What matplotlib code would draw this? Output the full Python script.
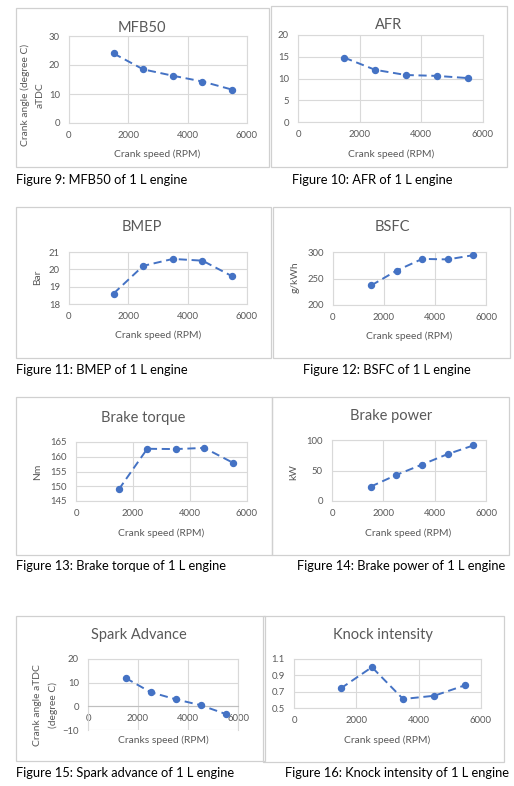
import matplotlib
matplotlib.use("Agg")
import matplotlib.pyplot as plt
from matplotlib.patches import Rectangle

plt.rcParams['font.family'] = ['Lato', 'DejaVu Sans']

# ---------------- data ----------------
rpm = [1500, 2500, 3500, 4500, 5500]
x_ticks = [0, 2000, 4000, 6000]

mfb50 = [24.0, 18.5, 16.3, 14.3, 11.5]
afr = [14.8, 12.0, 10.8, 10.6, 10.1]
bmep = [18.6, 20.2, 20.6, 20.5, 19.6]
bsfc = [237, 265, 287, 286, 294]
torque = [148.9, 162.7, 162.6, 163.0, 158.0]
power = [23.4, 42.6, 59.6, 76.8, 91.0]
spark = [12.0, 6.0, 3.0, 0.5, -3.2]
knock = [0.74, 1.00, 0.61, 0.65, 0.78]

titles = ["MFB50", "AFR", "BMEP", "BSFC", "Brake torque", "Brake power",
          "Spark Advance", "Knock intensity"]
captions = ["Figure 9: MFB50 of 1 L engine", "Figure 10: AFR of 1 L engine",
            "Figure 11: BMEP of 1 L engine", "Figure 12: BSFC of 1 L engine",
            "Figure 13: Brake torque of 1 L engine", "Figure 14: Brake power of 1 L engine",
            "Figure 15: Spark advance of 1 L engine", "Figure 16: Knock intensity of 1 L engine"]
xlabels = ["Crank speed (RPM)"] * 6 + ["Cranks speed (RPM)", "Crank speed (RPM)"]
ylabels = [["Crank angle (degree C)", "aTDC"], [], ["Bar"], ["g/kWh"], ["Nm"], ["kW"],
           ["Crank angle aTDC", "(degree C)"], []]
series = [mfb50, afr, bmep, bsfc, torque, power, spark, knock]
y_ticks = [[0, 10, 20, 30], [0, 5, 10, 15, 20], [18, 19, 20, 21], [200, 250, 300],
           [145, 150, 155, 160, 165], [0, 50, 100], [-10, 0, 10, 20], [0.5, 0.7, 0.9, 1.1]]
y_ticklabels = [None, None, None, None, None, None, None, ["0.5", "0.7", "0.9", "1.1"]]

# ---------------- layout (pixels) ----------------
W, H = 514, 786
fig = plt.figure(figsize=(W / 100, H / 100), dpi=100)
fig.patch.set_facecolor("white")

layout = [
    dict(box=(16, 8, 269, 167), plot=(69, 247, 36, 123), title=(142, 28), xl=(157, 154),
         ylx=[25, 40], yly=95, cap=(16, 180)),
    dict(box=(271, 6, 507, 167), plot=(298, 483, 35, 122), title=(389, 25), xl=(391, 154),
         ylx=[], yly=0, cap=(292, 180)),
    dict(box=(16, 207, 271, 358), plot=(69, 247, 252, 304), title=(142, 227), xl=(158, 335),
         ylx=[38], yly=277, cap=(16, 370)),
    dict(box=(273, 207, 510, 358), plot=(333, 486, 252, 305), title=(392, 227), xl=(409, 336),
         ylx=[295], yly=277, cap=(303, 370)),
    dict(box=(16, 397, 272, 555), plot=(76, 247, 442, 501), title=(143, 418), xl=(161, 533),
         ylx=[38], yly=472, cap=(16, 566)),
    dict(box=(272, 397, 509, 555), plot=(332, 486, 440, 501), title=(391, 416), xl=(408, 533),
         ylx=[294], yly=472, cap=(297, 566)),
    dict(box=(16, 616, 265, 761), plot=(88, 238, 659, 730), title=(139, 635), xl=(163, 740),
         ylx=[38, 53], yly=705, cap=(16, 773)),
    dict(box=(263, 616, 504, 762), plot=(294, 481, 659, 708), title=(383, 635), xl=(387, 740),
         ylx=[], yly=0, cap=(285, 773)),
]

grey = "#595959"
gridc = "#d9d9d9"
blue = "#4472C4"


def fx(x):
    return x / W


def fy(y):
    return 1 - y / H


for i, L in enumerate(layout):
    bx0, by0, bx1, by1 = L["box"]
    fig.patches.append(Rectangle((fx(bx0), fy(by1)), fx(bx1 - bx0), (by1 - by0) / H,
                                 transform=fig.transFigure, fill=False,
                                 edgecolor="#d0d0d0", linewidth=0.9))
    px0, px1, pyt, pyb = L["plot"]
    ax = fig.add_axes([fx(px0), fy(pyb), fx(px1 - px0), (pyb - pyt) / H])
    yt = y_ticks[i]
    ax.set_xlim(0, 6000)
    ax.set_ylim(yt[0], yt[-1])
    ax.set_xticks(x_ticks)
    ax.set_yticks(yt)
    if y_ticklabels[i] is not None:
        ax.set_yticklabels(y_ticklabels[i])
    ax.grid(True, color=gridc, linewidth=0.8)
    ax.set_axisbelow(True)
    for s in ax.spines.values():
        s.set_color(gridc)
        s.set_linewidth(0.8)
    ax.tick_params(length=0, labelsize=6.8, labelcolor=grey, pad=5.5)
    ax.tick_params(axis='y', pad=6.5)
    if i == 6:
        ax.spines['bottom'].set_position(('data', 0))
        ax.spines['bottom'].set_color("#bfbfbf")
    ax.plot(rpm, series[i], color=blue, linestyle=(0, (4.2, 2.4)), linewidth=1.4,
            marker="o", markersize=4.3, zorder=3)

    fig.text(fx(L["title"][0]), fy(L["title"][1]), titles[i], ha="center", va="center",
             fontsize=10.5, color=grey)
    fig.text(fx(L["xl"][0]), fy(L["xl"][1]), xlabels[i], ha="center", va="center",
             fontsize=7.4, color=grey)
    for lx, txt in zip(L["ylx"], ylabels[i]):
        fig.text(fx(lx), fy(L["yly"]), txt, ha="center", va="center", rotation=90,
                 fontsize=7.4, color=grey)
    fig.text(fx(L["cap"][0]), fy(L["cap"][1]), captions[i], ha="left", va="center",
             fontsize=9.3, color="black")

fig.savefig("out.png", dpi=100, facecolor="white")
